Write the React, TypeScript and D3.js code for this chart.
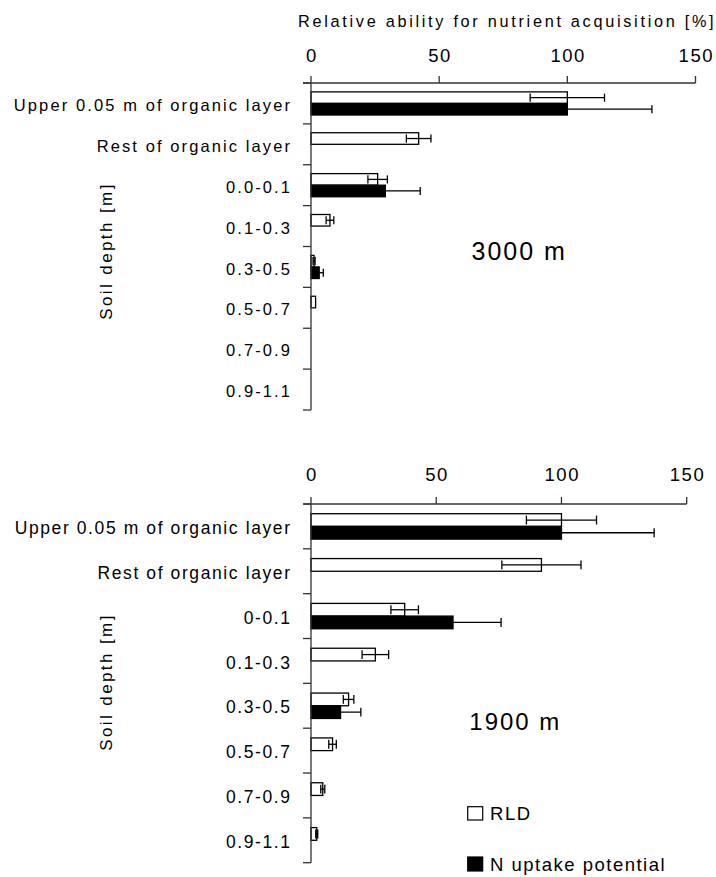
import React from "react";
import * as d3 from "d3";

const categoriesTop = ["Upper 0.05 m of organic layer", "Rest of organic layer", "0.0-0.1", "0.1-0.3", "0.3-0.5", "0.5-0.7", "0.7-0.9", "0.9-1.1"];
const categoriesBottom = ["Upper 0.05 m of organic layer", "Rest of organic layer", "0-0.1", "0.1-0.3", "0.3-0.5", "0.5-0.7", "0.7-0.9", "0.9-1.1"];

const rld3000: number[] = [100, 42, 26, 7.4, 1.2, 1.8, 0, 0];
const rld3000Err: number[] = [14.5, 4.8, 3.8, 1.5, 0.4, 0, 0, 0];
const n3000: (number | null)[] = [100, null, 29, null, 3.2, null, null, null];
const n3000Err: (number | null)[] = [33, null, 13.6, null, 1.6, null, null, null];

const rld1900: number[] = [100, 92, 37.4, 25.7, 15, 8.6, 4.7, 2.3];
const rld1900Err: number[] = [14, 15.8, 5.5, 5.3, 2.1, 1.5, 0.8, 0.4];
const n1900: (number | null)[] = [100, null, 56.7, null, 11.8, null, null, null];
const n1900Err: (number | null)[] = [37, null, 19.2, null, 8.1, null, null, null];

const xTicks = [0, 50, 100, 150];

const FONT = "'Liberation Sans', Arial, Helvetica, sans-serif";

type PanelProps = {
  cats: string[];
  rld: number[];
  rldErr: number[];
  n: (number | null)[];
  nErr: (number | null)[];
  x0: number;
  x1: number;
  yTop: number;
  yBottom: number;
  labelFont: number;
  labelLs: number;
  tickBaseline: number;
  site: string;
  siteX: number;
  siteY: number;
  siteFont: number;
  titleY: number;
};

function Panel(p: PanelProps) {
  const x = d3.scaleLinear().domain([0, 150]).range([p.x0, p.x1]);
  const y = d3.scaleBand<string>().domain(p.cats).range([p.yTop, p.yBottom]).paddingInner(0).paddingOuter(0);
  const step = y.step();
  const bh = step * 0.283;
  const cap = bh * 0.7;
  const boundaries = d3.range(p.cats.length + 1).map((i) => p.yTop + i * step);
  const axisColor = "#333";

  const errBar = (v: number, e: number, cy: number, key: string) => (
    <g key={key} stroke="#000" strokeWidth={1.3}>
      <line x1={x(v - e)} x2={x(v + e)} y1={cy} y2={cy} />
      <line x1={x(v - e)} x2={x(v - e)} y1={cy - cap / 2} y2={cy + cap / 2} />
      <line x1={x(v + e)} x2={x(v + e)} y1={cy - cap / 2} y2={cy + cap / 2} />
    </g>
  );

  return (
    <g>
      {/* x tick labels */}
      {xTicks.map((t) => (
        <text key={"tl" + t} x={x(t) + 0.8} y={p.tickBaseline} textAnchor="middle" fontSize={18.5} letterSpacing={1.5} fontFamily={FONT} fill="#000">
          {t}
        </text>
      ))}
      {/* bars */}
      {p.cats.map((c, i) => {
        const cy = (y(c) as number) + step / 2;
        const els: React.ReactNode[] = [];
        if (p.rld[i] > 0) {
          els.push(
            <rect key={"r" + i} x={x(0)} y={cy - bh} width={x(p.rld[i]) - x(0)} height={bh} fill="#fff" stroke="#000" strokeWidth={1.3} />
          );
        }
        const nv = p.n[i];
        if (nv !== null && nv > 0) {
          els.push(<rect key={"n" + i} x={x(0)} y={cy} width={x(nv) - x(0)} height={bh} fill="#000" stroke="#000" strokeWidth={1.3} />);
        }
        if (p.rld[i] > 0 && p.rldErr[i] > 0) els.push(errBar(p.rld[i], p.rldErr[i], cy - bh / 2, "re" + i));
        const ne = p.nErr[i];
        if (nv !== null && ne !== null && ne > 0) els.push(errBar(nv, ne, cy + bh / 2, "ne" + i));
        return <g key={"c" + i}>{els}</g>;
      })}
      {/* x axis */}
      <line x1={x(0) - 8} x2={x(150)} y1={p.yTop} y2={p.yTop} stroke={axisColor} strokeWidth={1.3} />
      {xTicks.map((t) => (
        <line key={"xt" + t} x1={x(t)} x2={x(t)} y1={p.yTop - 7} y2={p.yTop} stroke={axisColor} strokeWidth={1.3} />
      ))}
      {/* y axis */}
      <line x1={x(0)} x2={x(0)} y1={p.yTop} y2={p.yBottom} stroke={axisColor} strokeWidth={1.3} />
      {boundaries.map((b, i) => (
        <line key={"yt" + i} x1={x(0) - 8} x2={x(0)} y1={b} y2={b} stroke={axisColor} strokeWidth={1.3} />
      ))}
      {/* category labels */}
      {p.cats.map((c) => (
        <text key={"cl" + c} x={290 + p.labelLs} y={(y(c) as number) + step / 2 + 7.6} textAnchor="end" fontSize={p.labelFont} letterSpacing={p.labelLs} fontFamily={FONT} fill="#000">
          {c}
        </text>
      ))}
      {/* y title */}
      <text
        transform={`translate(112, ${p.titleY}) rotate(-90)`}
        textAnchor="middle"
        fontSize={17}
        letterSpacing={2.4}
        fontFamily={FONT}
        fill="#000"
      >
        Soil depth [m]
      </text>
      {/* site label */}
      <text x={p.siteX} y={p.siteY} fontSize={p.siteFont} letterSpacing={2} fontFamily={FONT} fill="#000">
        {p.site}
      </text>
    </g>
  );
}

export default function App() {
  return (
    <svg width={716} height={877} style={{ position: "absolute", left: 0, top: 0, background: "#fff" }}>
      <rect x={0} y={0} width={716} height={877} fill="#fff" />
      <text x={298} y={26.7} fontSize={16.3} letterSpacing={2.7} fontFamily={FONT} fill="#000">
        Relative ability for nutrient acquisition [%]
      </text>
      <Panel
        cats={categoriesTop}
        rld={rld3000}
        rldErr={rld3000Err}
        n={n3000}
        nErr={n3000Err}
        x0={311}
        x1={695.5}
        yTop={83}
        yBottom={410}
        labelFont={16.5}
        labelLs={2.1}
        tickBaseline={61.5}
        site="3000 m"
        siteX={471.5}
        siteY={260}
        siteFont={25}
        titleY={251}
      />
      <Panel
        cats={categoriesBottom}
        rld={rld1900}
        rldErr={rld1900Err}
        n={n1900}
        nErr={n1900Err}
        x0={311}
        x1={686.7}
        yTop={504}
        yBottom={862.7}
        labelFont={17.5}
        labelLs={1.6}
        tickBaseline={481}
        site="1900 m"
        siteX={469.3}
        siteY={730}
        siteFont={24}
        titleY={682}
      />
      {/* legend */}
      <rect x={467.7} y={806.7} width={15} height={13.3} fill="#fff" stroke="#000" strokeWidth={1.2} />
      <text x={490} y={820} fontSize={18.5} letterSpacing={1.6} fontFamily={FONT} fill="#000">
        RLD
      </text>
      <rect x={467.7} y={857} width={15} height={14} fill="#000" stroke="#000" strokeWidth={1.2} />
      <text x={490} y={871} fontSize={18.5} letterSpacing={1.5} fontFamily={FONT} fill="#000">
        N uptake potential
      </text>
    </svg>
  );
}
